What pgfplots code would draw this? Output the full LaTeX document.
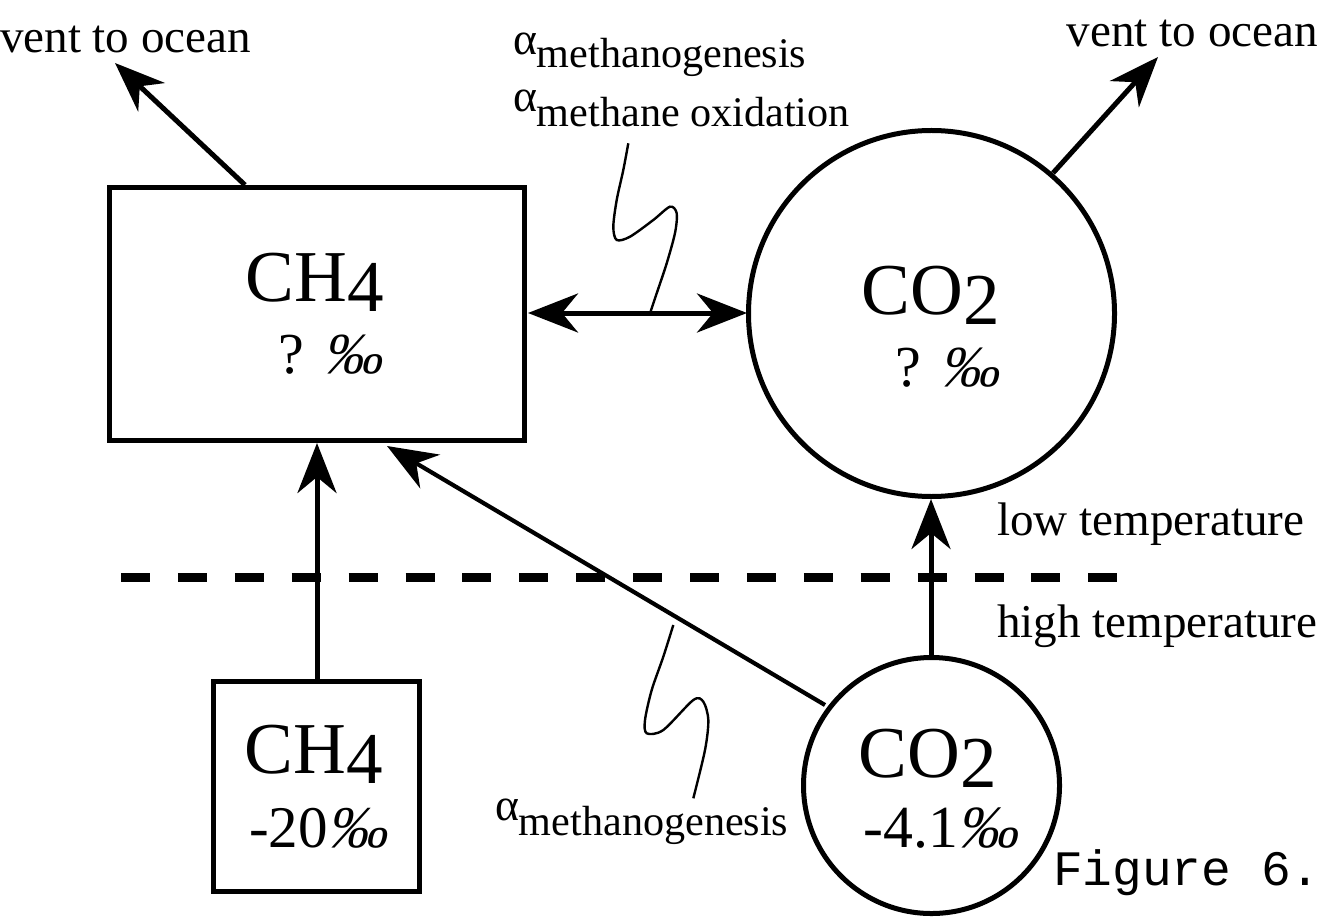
\documentclass[border=0pt]{standalone}
\usepackage{fontspec}
\setmainfont{Liberation Serif}
\newfontfamily\courier{Liberation Mono}
\newfontfamily\slantserif[FakeSlant=0.22]{Liberation Serif}
\usepackage{pgfplots}
\pgfplotsset{compat=1.18}
\usetikzlibrary{arrows.meta}
\newcommand{\fs}[1]{\fontsize{#1}{#1}\selectfont}
\newcommand{\permil}{{\slantserif ‰}}
\begin{document}
\begin{tikzpicture}[>={Stealth[length=5mm,width=3.9mm,inset=1.6mm]}]
\begin{axis}[width=13.26cm,height=9.18cm,scale only axis,
  xmin=0,xmax=1326,ymin=0,ymax=918,y dir=reverse,hide axis,clip=false,
  every axis plot/.append style={black,mark=none},
  nodes={inner sep=0pt,outer sep=0pt}]
% invisible frame for the bounding box
\addplot[draw=none] coordinates {(0,0) (1326,918)};
% dashed boundary
\addplot[line width=0.9mm,dash pattern=on 2.9mm off 2.79mm] coordinates {(121,577) (1117,577)};
% boxes
\addplot[line width=0.5mm,line join=miter] coordinates {(109.5,187.5) (524.5,187.5) (524.5,440.5) (109.5,440.5)} -- cycle;
\addplot[line width=0.5mm,line join=miter] coordinates {(213.5,681.5) (419.5,681.5) (419.5,891.5) (213.5,891.5)} -- cycle;
% circles
\addplot[only marks,mark=o,mark size=18.3mm,mark options={line width=0.5mm,fill=none}] coordinates {(931.5,313.5)};
\addplot[only marks,mark=o,mark size=12.8mm,mark options={line width=0.5mm,fill=none}] coordinates {(931.5,785.5)};
% arrows
\addplot[line width=0.5mm,->] coordinates {(245,185) (115,63)};
\addplot[line width=0.5mm,->] coordinates {(1053,173) (1158,57)};
\addplot[line width=0.5mm,<->] coordinates {(528,313) (747,313)};
\addplot[line width=0.5mm,->] coordinates {(317,681) (317,443)};
\addplot[line width=0.42mm,->] coordinates {(825,705) (387,446)};
\addplot[line width=0.5mm,->] coordinates {(931,657) (931,499)};
% squiggles
\addplot[line width=0.24mm,smooth,tension=0.5] coordinates {(628.3,143.3) (623.3,170) (616.7,200) (613.3,226.7) (616.7,240) (630,236.7) (653.3,220) (670,206.7) (676.7,213.3) (675,233) (666.7,263.3) (656.7,293.3) (650,313.3)};
\addplot[line width=0.24mm,smooth,tension=0.5] coordinates {(673.3,625) (663.3,656.7) (651.7,690) (645,720) (646.7,733.3) (663.3,730) (693.3,700) (703.3,701.7) (708.3,720) (705,750) (693.3,798.3)};
% texts
\node[anchor=base west] at (axis cs:0,53) {\fs{13.4pt}vent to ocean};
\node[anchor=base east] at (axis cs:1318,47) {\fs{13.4pt}vent to ocean};
\node[anchor=base west] at (axis cs:513,55) {\fs{13pt}α\raisebox{-1.25mm}{\fs{12pt}methanogenesis}};
\node[anchor=base west] at (axis cs:513,112) {\fs{13pt}α\raisebox{-1.45mm}{\fs{12pt}methane oxidation}};
\node[anchor=base west] at (axis cs:495,820) {\fs{13pt}α\raisebox{-1.5mm}{\fs{12pt}methanogenesis}};
\node[anchor=base west] at (axis cs:997,535) {\fs{13.4pt}low temperature};
\node[anchor=base west] at (axis cs:997,637) {\fs{13.4pt}high temperature};
\node[anchor=base] at (axis cs:314.5,302) {\fs{20.8pt}CH\raisebox{-1mm}{4}};
\node[anchor=base] at (axis cs:330,373) {\fs{16.5pt}? \permil};
\node[anchor=base] at (axis cs:930.5,315) {\fs{20.8pt}CO\raisebox{-1mm}{2}};
\node[anchor=base] at (axis cs:947,386) {\fs{16.5pt}? \permil};
\node[anchor=base] at (axis cs:314,773) {\fs{20.8pt}CH\raisebox{-1mm}{4}};
\node[anchor=base] at (axis cs:318,847) {\fs{16.8pt}-20\permil};
\node[anchor=base] at (axis cs:927.5,777) {\fs{20.8pt}CO\raisebox{-1mm}{2}};
\node[anchor=base] at (axis cs:940.5,847) {\fs{17pt}-4.1\permil};
\node[anchor=base west] at (axis cs:1053,885) {\fs{14.1pt}\courier Figure 6.};
\end{axis}
\end{tikzpicture}
\end{document}
